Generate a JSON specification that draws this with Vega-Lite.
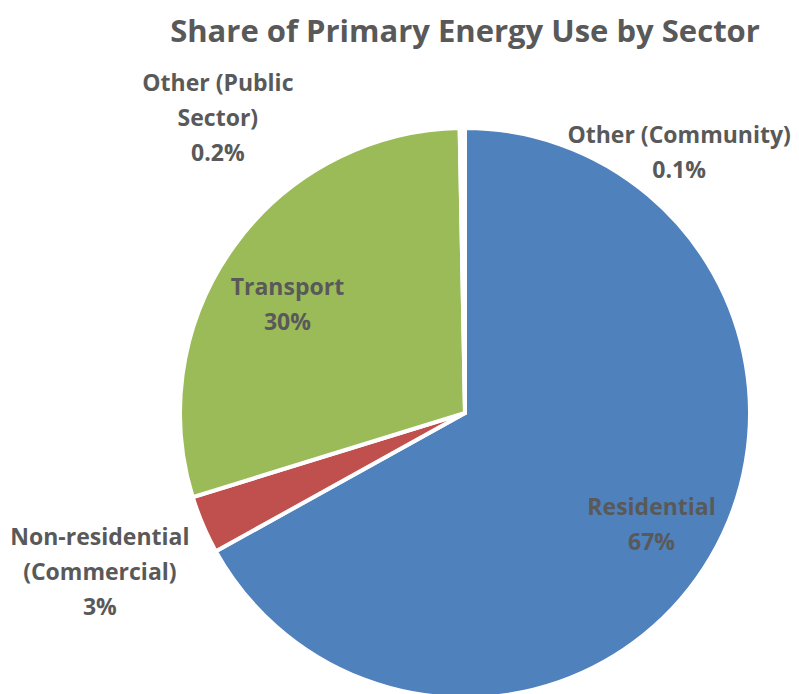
{
  "$schema": "https://vega.github.io/schema/vega-lite/v6.json",
  "autosize": "none",
  "width": 668,
  "height": 570,
  "padding": {"left": 131, "top": 128, "right": 0, "bottom": 0},
  "background": "white",
  "title": {
    "text": "Share of Primary Energy Use by Sector",
    "font": "Open Sans",
    "fontSize": 31,
    "fontWeight": "bold",
    "color": "#595959",
    "anchor": "middle",
    "frame": "group",
    "baseline": "alphabetic",
    "offset": 0
  },
  "config": {"view": {"stroke": null}},
  "data": {
    "values": [
      {"sector": "Residential", "value": 67.0, "order": 1, "label": ["Residential", "67%"]},
      {"sector": "Non-residential (Commercial)", "value": 3.3, "order": 2, "label": ["Non-residential", "(Commercial)", "3%"]},
      {"sector": "Transport", "value": 29.5, "order": 3, "label": ["Transport", "30%"]},
      {"sector": "Other (Public Sector)", "value": 0.2, "order": 4, "label": ["Other (Public", "Sector)", "0.2%"]},
      {"sector": "Other (Community)", "value": 0.1, "order": 5, "label": ["Other (Community)", "0.1%"]}
    ]
  },
  "encoding": {
    "theta": {"field": "value", "type": "quantitative", "stack": true},
    "order": {"field": "order", "type": "quantitative"}
  },
  "layer": [
    {
      "mark": {"type": "arc", "outerRadius": 285, "stroke": "white", "strokeWidth": 4},
      "encoding": {
        "color": {
          "field": "sector",
          "type": "nominal",
          "scale": {
            "domain": ["Residential", "Non-residential (Commercial)", "Transport", "Other (Public Sector)", "Other (Community)"],
            "range": ["#4F81BD", "#C0504D", "#9BBB59", "#8064A2", "#4BACC6"]
          },
          "legend": null
        }
      }
    },
    {
      "mark": {"type": "text", "radius": 213, "dx": -5, "font": "Open Sans", "fontSize": 23, "fontWeight": "bold", "color": "#595959", "lineHeight": 35, "baseline": "middle", "align": "center"},
      "encoding": {
        "text": {"condition": {"test": "datum.sector === 'Transport'", "field": "label"}, "value": ""}
      }
    },
    {
      "mark": {"type": "text", "radius": 213, "dx": 3, "dy": -13, "font": "Open Sans", "fontSize": 23, "fontWeight": "bold", "color": "#595959", "lineHeight": 35, "baseline": "middle", "align": "center"},
      "encoding": {
        "text": {"condition": {"test": "datum.sector === 'Residential'", "field": "label"}, "value": ""}
      }
    },
    {
      "mark": {"type": "text", "radius": 285, "dx": -103, "dy": 13, "font": "Open Sans", "fontSize": 23, "fontWeight": "bold", "color": "#595959", "lineHeight": 35, "baseline": "middle", "align": "center"},
      "encoding": {
        "text": {"condition": {"test": "datum.sector === 'Non-residential (Commercial)'", "field": "label"}, "value": ""}
      }
    },
    {
      "mark": {"type": "text", "radius": 329, "dx": -243, "font": "Open Sans", "fontSize": 23, "fontWeight": "bold", "color": "#595959", "lineHeight": 35, "baseline": "middle", "align": "center"},
      "encoding": {
        "text": {"condition": {"test": "datum.sector === 'Other (Public Sector)'", "field": "label"}, "value": ""}
      }
    },
    {
      "mark": {"type": "text", "radius": 277, "dx": 215, "font": "Open Sans", "fontSize": 23, "fontWeight": "bold", "color": "#595959", "lineHeight": 35, "baseline": "middle", "align": "center"},
      "encoding": {
        "text": {"condition": {"test": "datum.sector === 'Other (Community)'", "field": "label"}, "value": ""}
      }
    }
  ]
}
